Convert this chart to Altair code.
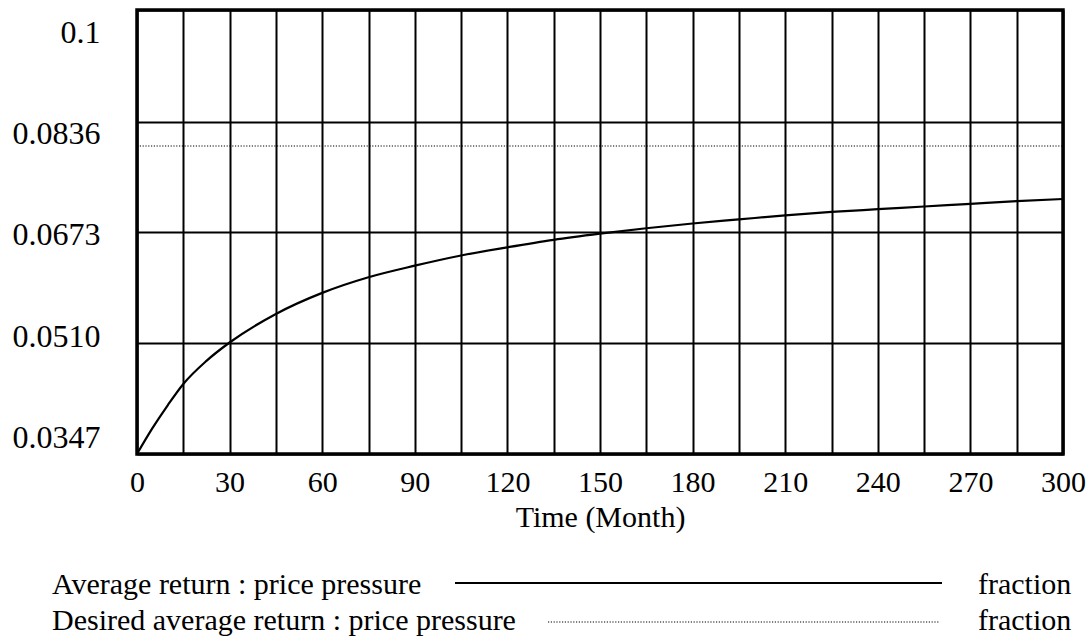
import altair as alt
import pandas as pd

# ---- data ----
time = [0, 5, 10, 15, 22.5, 30, 45, 60, 75, 90, 105, 120, 135, 150,
        165, 180, 195, 210, 225, 240, 255, 270, 285, 300]
avg_return = [0.0347, 0.0385, 0.0419, 0.0450, 0.0484, 0.0511, 0.0553,
              0.0584, 0.0607, 0.0624, 0.0639, 0.0651, 0.0662, 0.0671,
              0.0679, 0.0686, 0.0692, 0.0698, 0.0703, 0.0707, 0.0711,
              0.0715, 0.0719, 0.0722]
desired_time = [0, 300]
desired_return = [0.0800, 0.0800]

series_names = ["Average return : price pressure",
                "Desired average return : price pressure"]
units = ["fraction", "fraction"]

x_ticks = list(range(0, 301, 15))
y_ticks = [0.0347, 0.0510, 0.0673, 0.0836, 0.1]
y_tick_labels = ["0.0347", "0.0510", "0.0673", "0.0836", "0.1"]
x_title = "Time (Month)"

# ---- styling ----
FONT = "Liberation Serif"
W, H = 926, 444
LEFT, TOP = 137, 10

y_label_expr = ""
for v, s in zip(y_ticks, y_tick_labels):
    y_label_expr += f"abs(datum.value - {v}) < 1e-6 ? '{s}' : "
y_label_expr += "''"

y_offsets = [-17, -7, 2, 12, 22]
y_offset_cond = {
    "condition": [
        {"test": f"abs(datum.value - {v}) < 1e-6", "value": o}
        for v, o in zip(y_ticks, y_offsets)
    ],
    "value": 0,
}

x_scale = alt.Scale(domain=[0, 300], nice=False, zero=False)
y_scale = alt.Scale(domain=[0.0347, 0.1], nice=False, zero=False)

x_axis = alt.Axis(values=x_ticks, title=x_title,
                  labelExpr="datum.value % 30 == 0 ? datum.value : ''",
                  labelFlush=False, labelOverlap=False,
                  grid=True, gridColor="black", gridWidth=2, gridOpacity=1,
                  ticks=False, domain=False,
                  labelFont=FONT, labelFontSize=30, labelColor="black",
                  labelPadding=13,
                  titleFont=FONT, titleFontSize=30, titleFontWeight="normal",
                  titleColor="black", titlePadding=5)
y_axis = alt.Axis(values=y_ticks, title=None, labelExpr=y_label_expr,
                  labelOffset=y_offset_cond, labelBaseline="middle",
                  labelOverlap=False, labelFlush=False,
                  grid=True, gridColor="black", gridWidth=2, gridOpacity=1,
                  ticks=False, domain=False,
                  labelFont=FONT, labelFontSize=32, labelColor="black",
                  labelPadding=37)

avg_df = pd.DataFrame({"t": time, "v": avg_return})
des_df = pd.DataFrame({"t": desired_time, "v": desired_return})
leg_df = pd.DataFrame({"name": series_names, "unit": units,
                       "row": list(range(len(series_names)))})

avg_line = alt.Chart(avg_df).mark_line(color="black", strokeWidth=2.2,
                                        interpolate="monotone").encode(
    x=alt.X("t:Q", scale=x_scale, axis=x_axis),
    y=alt.Y("v:Q", scale=y_scale, axis=y_axis),
)
des_line = alt.Chart(des_df).mark_line(color="black", strokeWidth=1.2,
                                        strokeDash=[1.2, 1.6]).encode(
    x=alt.X("t:Q", scale=x_scale),
    y=alt.Y("v:Q", scale=y_scale),
)

# ---- legend (below the plot) ----
row_text_y = [594 - TOP, 630 - TOP]
row_line_y = [583 - TOP, 622 - TOP]
row_line_x0 = [455 - LEFT, 548 - LEFT]
row_line_x1 = [942 - LEFT, 940 - LEFT]
dashes = [[1, 0], [1.2, 1.6]]
widths = [2.2, 1.2]

legend_layers = []
for i in range(len(series_names)):
    base = alt.Chart(leg_df).transform_filter(f"datum.row == {i}")
    legend_layers.append(
        base.mark_text(align="left", baseline="alphabetic", font=FONT,
                       fontSize=30, color="black").encode(
            x=alt.value(52 - LEFT), y=alt.value(row_text_y[i]), text="name:N")
    )
    legend_layers.append(
        base.mark_text(align="left", baseline="alphabetic", font=FONT,
                       fontSize=30, color="black").encode(
            x=alt.value(978 - LEFT), y=alt.value(row_text_y[i]), text="unit:N")
    )
    legend_layers.append(
        base.mark_rule(color="black", strokeWidth=widths[i],
                       strokeDash=dashes[i]).encode(
            x=alt.value(row_line_x0[i]), x2=alt.value(row_line_x1[i]),
            y=alt.value(row_line_y[i]))
    )

chart = alt.layer(avg_line, des_line, *legend_layers).properties(
    width=W, height=H,
    autosize=alt.AutoSizeParams(type="none"),
    padding={"left": LEFT, "top": TOP, "right": 1091 - LEFT - W,
             "bottom": 642 - TOP - H},
    background="white",
).configure_view(stroke="black", strokeWidth=3.5)

chart.save("out.html", embed_options={"renderer": "svg", "actions": False})
